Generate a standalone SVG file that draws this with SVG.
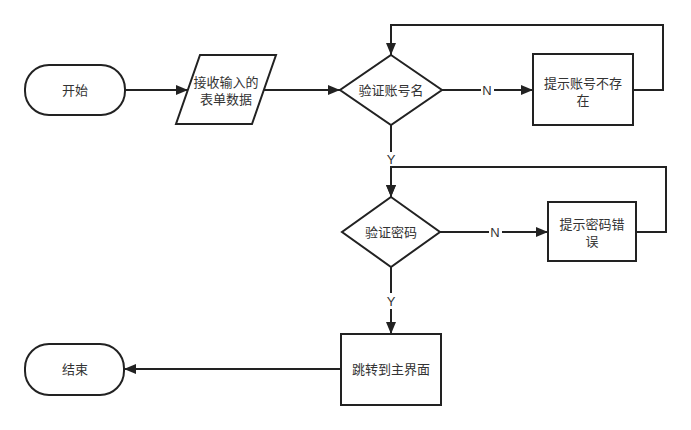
<svg xmlns="http://www.w3.org/2000/svg" width="691" height="430" viewBox="0 0 691 430">
<defs>
<style>
.s{fill:#fff;stroke:#222;stroke-width:2}
.c{fill:none;stroke:#222;stroke-width:2}
.t{font-family:"Liberation Sans","Noto Sans CJK SC",sans-serif;font-size:13px;fill:#333;text-anchor:middle;dominant-baseline:central}
.lb{fill:#fff}
</style>
<marker id="a" markerWidth="12" markerHeight="10" refX="12" refY="5" orient="auto" markerUnits="userSpaceOnUse">
<path d="M0,0 L12,5 L0,10 Z" fill="#222"/>
</marker>
</defs>
<rect width="691" height="430" fill="#fff"/>
<g id="connectors">
<path class="c" d="M125,90 L188,90" marker-end="url(#a)"/>
<path class="c" d="M264,90 L340,90" marker-end="url(#a)"/>
<path class="c" d="M442,90 L533,90" marker-end="url(#a)"/>
<path class="c" d="M633,90 L663,90 L663,25 L391,25 L391,55" marker-end="url(#a)"/>
<path class="c" d="M391,125 L391,197" marker-end="url(#a)"/>
<path class="c" d="M440,232 L548,232" marker-end="url(#a)"/>
<path class="c" d="M636,232 L666,232 L666,167 L391,167 L391,197" marker-end="url(#a)"/>
<path class="c" d="M391,267 L391,334" marker-end="url(#a)"/>
<path class="c" d="M341,369 L124,369" marker-end="url(#a)"/>
<rect class="lb" x="481" y="82" width="13" height="16"/>
<text class="t" x="487" y="90">N</text>
<rect class="lb" x="385" y="152" width="12" height="14"/>
<text class="t" x="391" y="159">Y</text>
<rect class="lb" x="489" y="224" width="13" height="16"/>
<text class="t" x="495" y="232">N</text>
<rect class="lb" x="385" y="293" width="12" height="16"/>
<text class="t" x="391" y="301">Y</text>
</g>
<g id="start">
<rect class="s" x="25" y="65" width="100" height="50" rx="24" ry="24"/>
<text class="t" x="75" y="90">开始</text>
</g>
<g id="input">
<polygon class="s" points="200,55 276,55 252,124 176,124"/>
<text class="t" x="226" y="82">接收输入的</text>
<text class="t" x="226" y="99">表单数据</text>
</g>
<g id="check-account">
<polygon class="s" points="391,55 442,90 391,125 340,90"/>
<text class="t" x="391" y="90">验证账号名</text>
</g>
<g id="account-missing">
<rect class="s" x="533" y="54" width="100" height="71"/>
<text class="t" x="583" y="83">提示账号不存</text>
<text class="t" x="583" y="100">在</text>
</g>
<g id="check-password">
<polygon class="s" points="391,197 440,232 391,267 342,232"/>
<text class="t" x="391" y="232">验证密码</text>
</g>
<g id="password-error">
<rect class="s" x="548" y="202" width="88" height="59"/>
<text class="t" x="592" y="224">提示密码错</text>
<text class="t" x="592" y="241">误</text>
</g>
<g id="jump">
<rect class="s" x="341" y="334" width="100" height="71"/>
<text class="t" x="391" y="369">跳转到主界面</text>
</g>
<g id="end">
<rect class="s" x="25" y="344" width="99" height="51" rx="24" ry="24"/>
<text class="t" x="75" y="369">结束</text>
</g>
</svg>
